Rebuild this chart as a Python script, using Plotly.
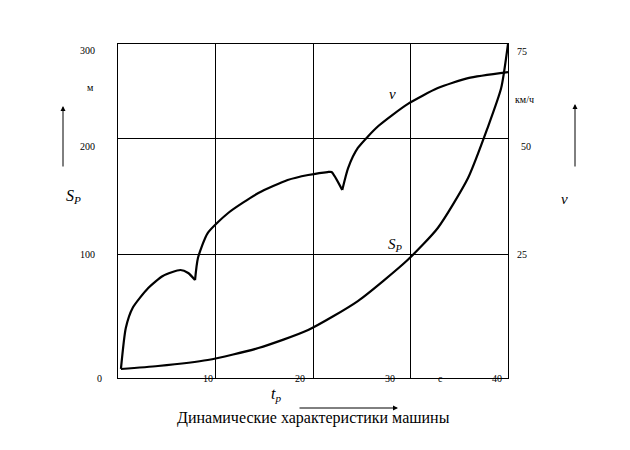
import plotly.graph_objects as go

# path S_p (m) vs time (s)
t_s = [0.3, 4.1, 9.2, 14.4, 19.5, 24.6, 29.7, 32.8, 35.9, 37.9, 39.3, 40.0]
s_p = [8.1, 10.8, 16.2, 26.9, 43.1, 69.1, 106, 134.7, 179.6, 224.5, 260.4, 300]

# speed v vs time (three gears)
t_v = [[0.3, 0.8, 1.5, 3.1, 4.6, 6.4, 7.2, 7.9],
       [7.9, 8.2, 9.2, 11.3, 14.4, 17.4, 19.5, 21.5, 21.9, 23.0],
       [23.0, 23.6, 24.6, 26.7, 29.7, 32.8, 35.9, 40.0]]
v = [[8.1, 44.9, 62.9, 80.8, 91.6, 97, 94.3, 88],
     [88, 107.8, 130.2, 148.2, 166.1, 177.8, 182.3, 185, 185, 168.8],
     [168.8, 188.6, 206.6, 226.3, 246, 260.4, 269.4, 274.8]]

grid_x = [10, 20, 30]
grid_y = [111, 215]

F = "Liberation Serif"
fig = go.Figure()
line = dict(color="black", width=2.2, shape="spline", smoothing=0.6)
fig.add_trace(go.Scatter(x=t_s, y=s_p, mode="lines", line=line))
for xs, ys in zip(t_v, v):
    fig.add_trace(go.Scatter(x=xs, y=ys, mode="lines", line=line))

ax = dict(showline=True, mirror=True, linecolor="black", linewidth=1,
          showgrid=True, gridcolor="black", gridwidth=1, showticklabels=False,
          ticks="", zeroline=False)
fig.update_xaxes(range=[0, 40], tickvals=grid_x, **ax)
fig.update_yaxes(range=[0, 300], tickvals=grid_y, **ax)


def P(px, py):
    return (px - 110) / 390, (370 - py) / 334


def txt(px, py, s, size=10, italic=False):
    x, y = P(px, py)
    if italic:
        s = "<i>" + s + "</i>"
    fig.add_annotation(x=x, y=y, xref="x domain", yref="y domain", text=s, showarrow=False,
                       font=dict(family=F, size=size, color="black"))


def arrow(x0, y0, x1, y1):
    ax0, ay0 = P(x0, y0)
    ax1, ay1 = P(x1, y1)
    fig.add_annotation(x=ax1, y=ay1, ax=ax0, ay=ay0, xref="x domain", yref="y domain",
                       axref="x domain", ayref="y domain", text="", showarrow=True,
                       arrowhead=2, arrowsize=1, arrowwidth=1, arrowcolor="black")


for px, py, s in [(70, 35, "300"), (70, 131, "200"), (70, 246, "100"), (87, 378, "0"),
                  (193, 378, "10"), (292, 378, "20"), (389, 378, "30"), (437, 378, "с"),
                  (496, 378, "40"), (521, 36, "75"), (525, 131, "50"), (521, 246, "25"),
                  (77, 72, "м"), (528, 84, "км/ч")]:
    txt(px, py, s)
txt(390, 76, "v", 15, True)
txt(397, 237, "S<sub>P</sub>", 15, True)
txt(56, 188, "S<sub>P</sub>", 16, True)
txt(562, 191, "v", 15, True)
txt(268, 398, "t<sub>p</sub>", 16, True)
txt(305, 421, "Динамические характеристики машины", 16)
arrow(55, 160, 55, 98)
arrow(567, 160, 567, 96)
arrow(290, 400, 390, 400)

fig.update_layout(width=630, height=450, showlegend=False,
                  margin=dict(l=110, r=130, t=36, b=80),
                  plot_bgcolor="white", paper_bgcolor="white")
fig.write_html("out.html")
